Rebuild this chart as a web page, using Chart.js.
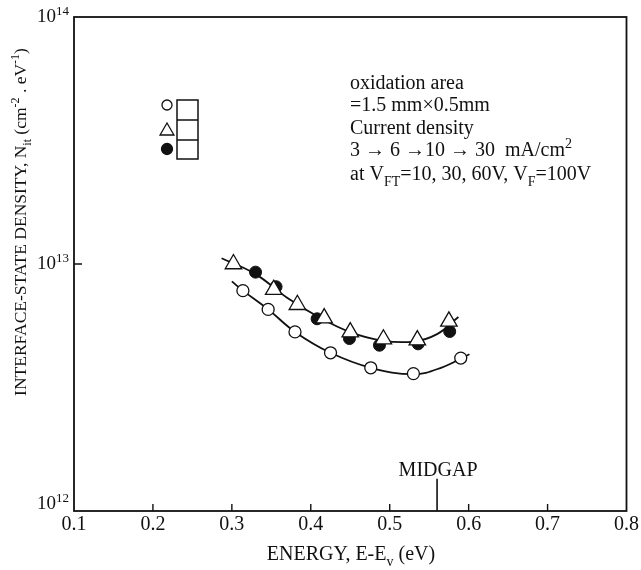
<!DOCTYPE html>
<html>
<head>
<meta charset="utf-8">
<script src="https://cdn.jsdelivr.net/npm/chart.js@4/dist/chart.umd.min.js"></script>
<style>
  html, body { margin: 0; padding: 0; background: #fff; }
  #wrap { width: 641px; height: 570px; position: relative; }
</style>
</head>
<body>
<div id="wrap"><canvas id="nitChart" width="641" height="570"></canvas></div>
<script>
// measured points (energy in eV, Nit in cm^-2 eV^-1)
const circleE = [0.314, 0.346, 0.380, 0.425, 0.476, 0.530, 0.590];
const circleN = [7.8e12, 6.55e12, 5.31e12, 4.37e12, 3.80e12, 3.60e12, 4.16e12];
const triE = [0.302, 0.353, 0.383, 0.417, 0.450, 0.492, 0.535, 0.575];
const triN = [1.0e13, 7.87e12, 6.84e12, 6.04e12, 5.30e12, 4.96e12, 4.92e12, 5.86e12];
const dotE = [0.330, 0.356, 0.408, 0.449, 0.487, 0.536, 0.576];
const dotN = [9.27e12, 8.09e12, 6.0e12, 4.99e12, 4.69e12, 4.75e12, 5.33e12];

// hand-drawn guide curves
const upperE = [0.287, 0.33, 0.37, 0.41, 0.45, 0.49, 0.53, 0.56, 0.587];
const upperN = [1.055e13, 9.1e12, 7.3e12, 6.1e12, 5.3e12, 4.9e12, 4.85e12, 5.2e12, 6.1e12];
const lowerE = [0.300, 0.314, 0.346, 0.380, 0.425, 0.476, 0.530, 0.565, 0.601];
const lowerN = [8.5e12, 7.8e12, 6.55e12, 5.31e12, 4.37e12, 3.80e12, 3.58e12, 3.8e12, 4.31e12];

const midgapE = 0.56;
const midgapN = [1e12, 1.35e12];
const xTicks = [0.1, 0.2, 0.3, 0.4, 0.5, 0.6, 0.7, 0.8];
const yTickExp = [12, 13, 14];

const INK = '#111';
const SERIF = '"Liberation Serif", "DejaVu Serif", serif';

const pts = (xs, ys) => xs.map((x, i) => ({x: x, y: ys[i]}));

// draw text made of normal / sub / sup pieces on baseline y
function richText(ctx, parts, x, y, size, align) {
    const small = Math.round(size * 0.7);
    const fontOf = p => (p.m === 'n' ? size : small) + 'px ' + SERIF;
    let total = 0;
    parts.forEach(p => { ctx.font = fontOf(p); total += ctx.measureText(p.t).width; });
    let cx = align === 'center' ? x - total / 2 : (align === 'right' ? x - total : x);
    ctx.textAlign = 'left';
    ctx.textBaseline = 'alphabetic';
    parts.forEach(p => {
        ctx.font = fontOf(p);
        let dy = 0;
        if (p.m === 'sub') dy = size * 0.28;
        if (p.m === 'sup') dy = -size * 0.38;
        ctx.fillText(p.t, cx, y + dy);
        cx += ctx.measureText(p.t).width;
    });
}

const decorations = {
    id: 'decorations',
    afterDraw(chart) {
        const ctx = chart.ctx;
        const area = chart.chartArea;
        const xs = chart.scales.x;
        const ys = chart.scales.y;
        ctx.save();
        ctx.strokeStyle = INK;
        ctx.fillStyle = INK;

        // frame
        ctx.lineWidth = 1.8;
        ctx.strokeRect(area.left, area.top, area.right - area.left, area.bottom - area.top);

        // inward ticks
        ctx.lineWidth = 1.4;
        ctx.beginPath();
        xTicks.slice(1, -1).forEach(v => {
            const px = xs.getPixelForValue(v);
            ctx.moveTo(px, area.bottom);
            ctx.lineTo(px, area.bottom - 7);
        });
        const py13 = ys.getPixelForValue(1e13);
        ctx.moveTo(area.left, py13);
        ctx.lineTo(area.left + 8, py13);
        ctx.stroke();

        // y tick labels 10^n
        yTickExp.forEach(n => {
            const py = ys.getPixelForValue(Math.pow(10, n)) + (n === 12 ? -2 : 5);
            richText(ctx, [{t: '10', m: 'n'}, {t: String(n), m: 'sup'}], area.left - 5, py, 19, 'right');
        });

        // axis titles
        richText(ctx, [{t: 'ENERGY, E-E', m: 'n'}, {t: 'v', m: 'sub'}, {t: ' (eV)', m: 'n'}],
            351, 560, 20, 'center');
        ctx.save();
        ctx.translate(26, 222);
        ctx.rotate(-Math.PI / 2);
        richText(ctx, [
            {t: 'INTERFACE-STATE DENSITY, N', m: 'n'}, {t: 'it', m: 'sub'},
            {t: ' (cm', m: 'n'}, {t: '-2', m: 'sup'}, {t: ' . eV', m: 'n'}, {t: '-1', m: 'sup'}, {t: ')', m: 'n'}
        ], 0, 0, 17.5, 'center');
        ctx.restore();

        // midgap label
        richText(ctx, [{t: 'MIDGAP', m: 'n'}], xs.getPixelForValue(midgapE) + 1, 476, 20, 'center');

        // condition note
        const nx = 350;
        richText(ctx, [{t: 'oxidation area', m: 'n'}], nx, 89, 20, 'left');
        richText(ctx, [{t: '=1.5 mm\u00d70.5mm', m: 'n'}], nx, 111, 20, 'left');
        richText(ctx, [{t: 'Current density', m: 'n'}], nx, 134, 20, 'left');
        richText(ctx, [{t: '3 \u2192 6 \u219210 \u2192 30  mA/cm', m: 'n'}, {t: '2', m: 'sup'}], nx, 156, 20, 'left');
        richText(ctx, [{t: 'at V', m: 'n'}, {t: 'FT', m: 'sub'}, {t: '=10, 30, 60V, V', m: 'n'},
            {t: 'F', m: 'sub'}, {t: '=100V', m: 'n'}], nx, 180, 20, 'left');

        // symbol key: three markers beside a column of empty boxes
        const keyX = 167;
        const boxL = 177, boxR = 198, rows = [100, 120, 140, 159];
        ctx.lineWidth = 1.5;
        ctx.strokeRect(boxL, rows[0], boxR - boxL, rows[3] - rows[0]);
        ctx.beginPath();
        ctx.moveTo(boxL, rows[1]); ctx.lineTo(boxR, rows[1]);
        ctx.moveTo(boxL, rows[2]); ctx.lineTo(boxR, rows[2]);
        ctx.stroke();
        const keys = [
            {style: 'circle', r: 5, fill: '#fff', y: 105},
            {style: 'triangle', r: 8, fill: '#fff', y: 131},
            {style: 'circle', r: 5.5, fill: INK, y: 149}
        ];
        keys.forEach(k => {
            ctx.fillStyle = k.fill;
            ctx.strokeStyle = INK;
            ctx.lineWidth = 1.3;
            Chart.helpers.drawPoint(ctx, {pointStyle: k.style, radius: k.r, rotation: 0, borderWidth: 1.3}, keyX, k.y);
        });
        ctx.restore();
    }
};

const ctx = document.getElementById('nitChart').getContext('2d');

const chart = new Chart(ctx, {
    type: 'scatter',
    data: {
        datasets: [
            {
                label: 'triangles',
                data: pts(triE, triN),
                pointStyle: 'triangle',
                pointRadius: 9.5,
                backgroundColor: '#fff',
                borderColor: INK,
                borderWidth: 1.3,
                order: 0
            },
            {
                label: 'filled',
                data: pts(dotE, dotN),
                pointStyle: 'circle',
                pointRadius: 6,
                backgroundColor: INK,
                borderColor: INK,
                borderWidth: 1,
                order: 1
            },
            {
                label: 'open',
                data: pts(circleE, circleN),
                pointStyle: 'circle',
                pointRadius: 6,
                backgroundColor: '#fff',
                borderColor: INK,
                borderWidth: 1.3,
                order: 1
            },
            {
                label: 'upper curve',
                data: pts(upperE, upperN),
                showLine: true,
                pointRadius: 0,
                borderColor: INK,
                borderWidth: 1.8,
                tension: 0.4,
                order: 3
            },
            {
                label: 'lower curve',
                data: pts(lowerE, lowerN),
                showLine: true,
                pointRadius: 0,
                borderColor: INK,
                borderWidth: 1.8,
                tension: 0.4,
                order: 3
            },
            {
                label: 'midgap',
                data: midgapN.map(n => ({x: midgapE, y: n})),
                showLine: true,
                pointRadius: 0,
                borderColor: INK,
                borderWidth: 1.6,
                order: 3
            }
        ]
    },
    options: {
        responsive: false,
        animation: false,
        layout: {
            padding: {left: 74, right: 14, top: 17, bottom: 31}
        },
        plugins: {
            legend: { display: false },
            tooltip: { enabled: false }
        },
        scales: {
            x: {
                type: 'linear',
                min: 0.1,
                max: 0.8,
                afterBuildTicks: axis => { axis.ticks = xTicks.map(v => ({value: v})); },
                grid: { display: false, drawTicks: false },
                border: { display: false },
                ticks: {
                    padding: 2,
                    color: INK,
                    font: { family: SERIF, size: 20 },
                    callback: v => Number(v).toFixed(1)
                }
            },
            y: {
                type: 'logarithmic',
                min: 1e12,
                max: 1e14,
                grid: { display: false, drawTicks: false },
                border: { display: false },
                ticks: { display: false }
            }
        }
    },
    plugins: [decorations]
});
</script>
</body>
</html>
